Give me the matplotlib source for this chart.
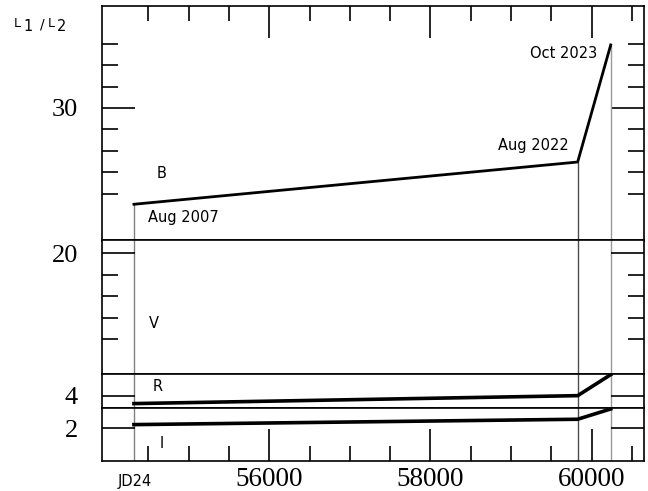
import matplotlib
matplotlib.use("Agg")
import matplotlib.pyplot as plt
import numpy as np

# epochs (JD - 2400000) and luminosity ratios per band
jd      = [54321, 59826, 60236]
epochs  = ["Aug 2007", "Aug 2022", "Oct 2023"]
ratio_B = [25.51, 27.48, 32.94]
ratio_R = [3.63, 4.00, 4.98]
ratio_I = [2.17, 2.42, 2.90]

# broken y axis: limits, major and minor ticks of each band panel
panels = ["B", "V", "R", "I"]
ylims  = {"B": (23.82, 34.755), "V": (14.37, 20.6), "R": (3.41, 5.01), "I": (0.475, 2.93)}
ymajor = {"B": [30], "V": [20], "R": [4], "I": [2]}
yminor = {"B": [26, 27, 28, 29, 31, 32, 33], "V": [16, 17, 18, 19], "R": [], "I": []}
heights = [234.5, 133.5, 34.3, 52.7]

xmajor = [56000, 58000, 60000]
xminor = [54500, 55000, 55500, 56500, 57000, 57500, 58500, 59000, 59500, 60500]

serif = "Liberation Serif"
sans = "DejaVu Sans"

fig = plt.figure(figsize=(6.48, 4.91), dpi=100)
gs = fig.add_gridspec(4, 1, height_ratios=heights, hspace=0,
                      left=101.7/648, right=644/648, top=1-6/491, bottom=1-461/491)
axes = {}
for i, p in enumerate(panels):
    ax = fig.add_subplot(gs[i], sharex=axes.get("B"))
    axes[p] = ax
    ax.set_xlim(53921, 60649)
    ax.set_ylim(*ylims[p])
    for s in ax.spines.values():
        s.set_linewidth(1.2)
    ax.set_yticks(ymajor[p])
    ax.set_yticks(yminor[p], minor=True)
    ax.set_yticklabels([str(v) for v in ymajor[p]], fontfamily=serif, fontsize=19)
    ax.tick_params(axis="y", which="major", direction="in", length=23.8, width=1.2,
                   left=True, right=True, pad=17)
    ax.tick_params(axis="y", which="minor", direction="in", length=11.5, width=1.2,
                   left=True, right=True)
    ax.set_xticks(xmajor)
    ax.set_xticks(xminor, minor=True)
    ax.tick_params(axis="x", which="major", direction="in", length=23, width=1.2,
                   top=(p == "B"), bottom=(p == "I"), labelbottom=(p == "I"), pad=4.5)
    ax.tick_params(axis="x", which="minor", direction="in", length=10.8, width=1.2,
                   top=(p == "B"), bottom=(p == "I"))

axI = axes["I"]
axI.set_xticklabels([str(v) for v in xmajor], fontfamily=serif, fontsize=19.5)

# vertical epoch markers
vcol = ["0.5", "0.3", "0.6"]
axB = axes["B"]
for x, yb, c in zip(jd, ratio_B, vcol):
    axB.vlines(x, ylims["B"][0], yb, color=c, lw=1)
    for p in ["V", "R", "I"]:
        axes[p].axvline(x, color=c, lw=1, zorder=1)

axB.plot(jd, ratio_B, color="black", lw=2, zorder=3)
axes["R"].plot(jd, ratio_R, color="black", lw=2.6, zorder=3)
axes["I"].plot(jd, ratio_I, color="black", lw=2.6, zorder=3)

# labels
axB.text(54663, 26.95, "B", fontfamily=sans, fontsize=10.5, ha="center", va="center")
axes["V"].text(54563, 16.75, "V", fontfamily=sans, fontsize=10.5, ha="center", va="center")
axes["R"].text(54613, 4.43, "R", fontfamily=sans, fontsize=10.5, ha="center", va="center")
axes["I"].text(54669, 1.27, "I", fontfamily=sans, fontsize=10.5, ha="center", va="center")

axB.text(54495, 24.87, epochs[0], fontfamily=sans, fontsize=10.5, ha="left", va="center")
axB.text(59718, 28.23, epochs[1], fontfamily=sans, fontsize=10.5, ha="right", va="center")
axB.text(60066, 32.56, epochs[2], fontfamily=sans, fontsize=10.5, ha="right", va="center")

axI.annotate("JD24", xy=(54330, 0), xycoords=("data", "axes fraction"),
             xytext=(0, -14.4), textcoords="offset points",
             fontfamily=sans, fontsize=10.5, ha="center", va="center")

# L1 /L2 label
fig.text(14/648, 1-27/491, "L", fontfamily=sans, fontsize=9, va="baseline")
fig.text(23/648, 1-31/491, "1", fontfamily=sans, fontsize=10.5, va="baseline")
fig.text(40/648, 1-29/491, "/", fontfamily=sans, fontsize=10, va="baseline")
fig.text(48/648, 1-27/491, "L", fontfamily=sans, fontsize=9, va="baseline")
fig.text(57/648, 1-31/491, "2", fontfamily=sans, fontsize=10.5, va="baseline")

fig.savefig("out.png", dpi=100)
